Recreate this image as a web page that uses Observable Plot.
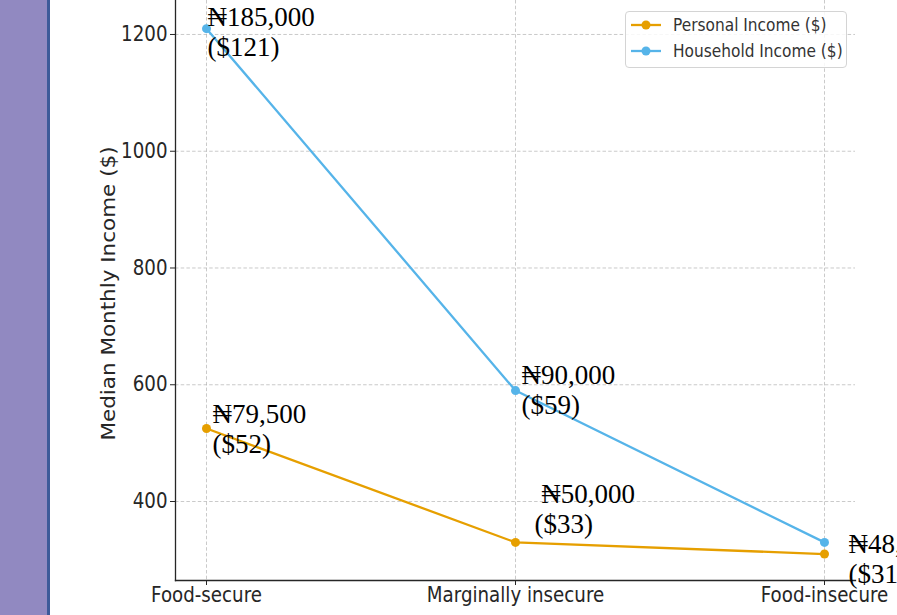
<!DOCTYPE html>
<html><head><meta charset="utf-8">
<script src="https://cdn.jsdelivr.net/npm/d3@7"></script>
<script src="https://cdn.jsdelivr.net/npm/@observablehq/plot@0.6"></script>
<style>
html,body{margin:0;padding:0;background:#fff;overflow:hidden;}
#wrap{position:relative;width:897px;height:615px;overflow:hidden;}
#chart{position:absolute;left:0;top:0;}
#chart svg{overflow:hidden;display:block;}
#band{position:absolute;left:0;top:0;width:47px;height:615px;background:#9189c1;border-right:3px solid #3d5a99;}
#legend{position:absolute;left:625px;top:11px;width:220px;height:55px;border:1px solid #d4d4d4;border-radius:4px;background:rgba(255,255,255,0.85);font-family:"DejaVu Sans";font-size:17.7px;color:#333;}
.row{position:absolute;left:0;height:26px;display:flex;align-items:center;}
.row svg{margin-left:5px;margin-right:12px;}
.row span{display:inline-block;transform:scaleX(0.87);transform-origin:0 50%;white-space:nowrap;}
</style></head>
<body>
<div id="wrap"><div id="chart"></div><div id="band"></div><div id="legend"></div></div>
<script>
const categories = ["Food-secure", "Marginally insecure", "Food-insecure"];
const personalIncome = [525, 330, 310];
const householdIncome = [1210, 590, 330];
const personalLabels = ["₦79,500\n($52)", " ₦50,000\n($33)", "₦48,000\n($31)"];
const householdLabels = ["₦185,000\n($121)", "₦90,000\n($59)", ""];
const seriesNames = ["Personal Income ($)", "Household Income ($)"];
const seriesColors = ["#E69F00", "#56B4E9"];
const yTicks = [400, 600, 800, 1000, 1200];
const yLabel = "Median Monthly Income ($)";

const rows = [
  ...categories.map((c, i) => ({category: c, series: seriesNames[0], value: personalIncome[i], label: personalLabels[i]})),
  ...categories.map((c, i) => ({category: c, series: seriesNames[1], value: householdIncome[i], label: householdLabels[i]}))
];
const P = seriesNames[0], H = seriesNames[1];
const pick = (s, c) => rows.filter(d => d.series === s && d.category === c && d.label);
const SERIF = "'Liberation Serif','Times New Roman',serif";
const annot = (s, c, dx, dy) => Plot.text(pick(s, c), {
  x: "category", y: "value", text: "label", dx, dy,
  textAnchor: "start", lineAnchor: "middle", lineHeight: 1.11,
  fontFamily: SERIF, fontSize: 27, fill: "#000"
});
const grid = {stroke: "#b0b0b0", strokeOpacity: 0.75, strokeDasharray: "3.5,2.2", strokeWidth: 0.9};

const chart = Plot.plot({
  width: 897, height: 615,
  marginLeft: 175, marginRight: 42, marginTop: 0, marginBottom: 35,
  style: {fontFamily: "DejaVu Sans", fontSize: "20.5px", color: "#262626", background: "transparent"},
  x: {type: "point", domain: categories, padding: 0.1, label: null},
  y: {domain: [264.7, 1258.2], label: null},
  color: {domain: seriesNames, range: seriesColors},
  marks: [
    Plot.gridY(yTicks, grid),
    Plot.gridX(categories, grid),
    Plot.frame({anchor: "left", stroke: "#262626", strokeWidth: 1.3}),
    Plot.frame({anchor: "bottom", stroke: "#262626", strokeWidth: 1.3}),
    Plot.axisY(yTicks, {tickSize: 5, tickPadding: 3, label: null, stroke: "#262626", tickFormat: d => String(d)}),
    Plot.axisX(categories, {tickSize: 5, tickPadding: 2, label: null, stroke: "#262626"}),
    Plot.text([yLabel], {frameAnchor: "left", rotate: -90, dx: -67, dy: 3, fontSize: 21.5, lineAnchor: "middle", textAnchor: "middle", fill: "#262626"}),
    Plot.line(rows, {x: "category", y: "value", stroke: "series", strokeWidth: 2.3}),
    Plot.dot(rows, {x: "category", y: "value", fill: "series", r: 4.5}),
    annot(H, categories[0], 1, 2.4),
    annot(H, categories[1], 6, -1.6),
    annot(P, categories[0], 6, 0),
    annot(P, categories[1], 19, -33.6),
    annot(P, categories[2], 24, 4.4)
  ]
});

// narrow the sans-serif axis texts horizontally about their anchors
const S_AXIS = 0.89;
chart.querySelectorAll("text").forEach(t => {
  if (t.closest('[font-family*="Liberation Serif"]')) return;
  const tl = t.transform.baseVal;
  if (!tl.numberOfItems) return;
  const m = tl.consolidate().matrix;
  t.setAttribute("transform", `matrix(${m.a * S_AXIS},${m.b},${m.c * S_AXIS},${m.d},${m.e},${m.f})`);
});
document.getElementById("chart").appendChild(chart);

const legend = document.getElementById("legend");
seriesNames.forEach((name, i) => {
  const row = document.createElement("div");
  row.className = "row";
  row.style.top = (i * 26) + "px";
  row.innerHTML = `<svg width="30" height="12"><line x1="0" x2="30" y1="6" y2="6" stroke="${seriesColors[i]}" stroke-width="2.3"/><circle cx="15" cy="6" r="4.5" fill="${seriesColors[i]}"/></svg><span>${name}</span>`;
  legend.appendChild(row);
});
</script>
</body></html>
